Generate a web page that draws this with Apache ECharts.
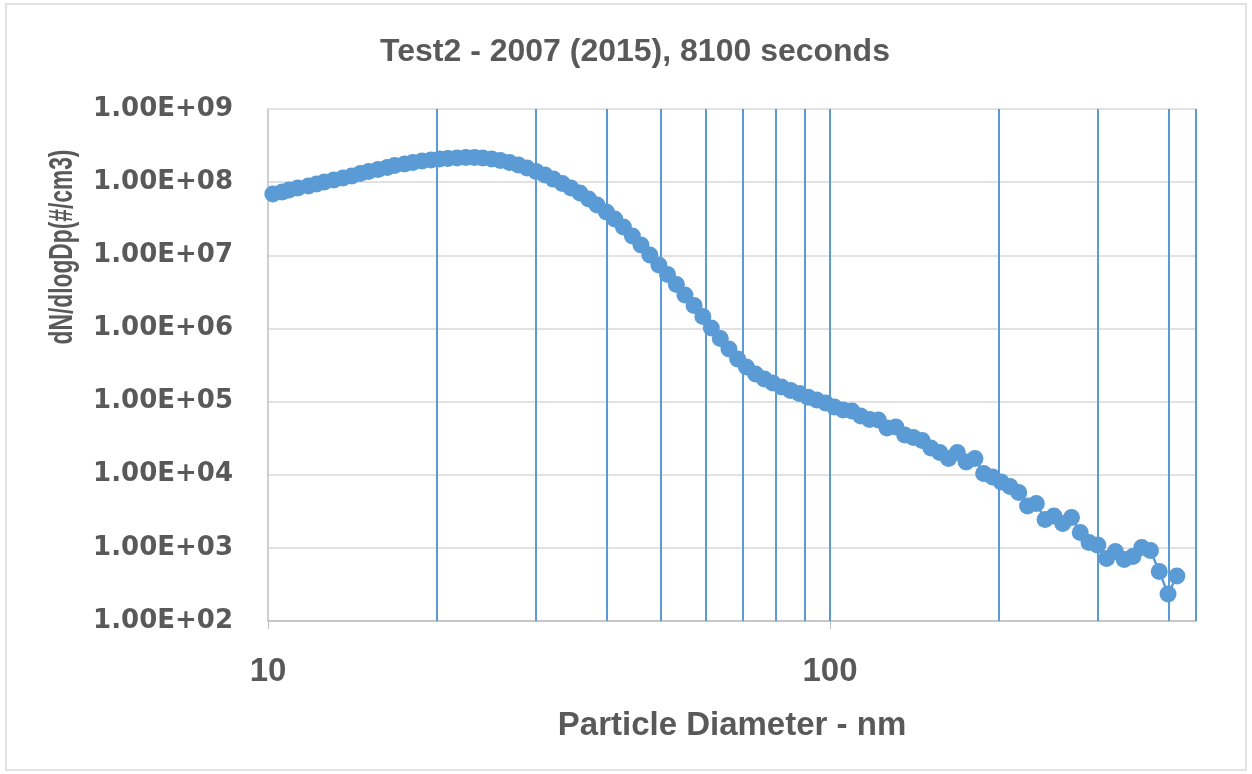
<!DOCTYPE html>
<html>
<head>
  <meta charset="utf-8">
  <title>Test2 - 2007 (2015), 8100 seconds</title>
  <script src="https://fastly.jsdelivr.net/npm/echarts@6/dist/echarts.min.js"></script>
  <style>
    html, body { margin: 0; padding: 0; background: #fff; }
  </style>
</head>
<body>
<div id="chart-container" style="position: relative; width: 1252px; height: 774px; overflow: hidden;"></div>
<script type="text/javascript">
  // particle diameters (nm), SMPS channel midpoints
  var diameters = [
    10.2, 10.6, 10.9, 11.3, 11.8, 12.2, 12.6, 13.1, 13.6, 14.1,
    14.6, 15.1, 15.7, 16.3, 16.8, 17.5, 18.1, 18.8, 19.5, 20.2,
    20.9, 21.7, 22.5, 23.3, 24.1, 25.0, 25.9, 26.9, 27.9, 28.9,
    30.0, 31.1, 32.2, 33.4, 34.6, 35.9, 37.2, 38.5, 40.0, 41.4,
    42.9, 44.5, 46.1, 47.8, 49.6, 51.4, 53.3, 55.2, 57.3, 59.4,
    61.5, 63.8, 66.1, 68.5, 71.0, 73.7, 76.4, 79.1, 82.0, 85.1,
    88.2, 91.4, 94.7, 98.2, 101.8, 105.5, 109.4, 113.4, 117.6, 121.9,
    126.3, 131.0, 135.8, 140.7, 145.9, 151.2, 156.8, 162.5, 168.5, 174.7,
    181.1, 187.7, 194.6, 201.7, 209.1, 216.7, 224.7, 232.9, 241.4, 250.3,
    259.5, 269.0, 278.8, 289.0, 299.6, 310.6, 322.0, 333.8, 346.0, 358.7,
    371.8, 385.4, 399.5, 414.2
  ];

  // dN/dlogDp (#/cm3)
  var concentration = [
    6.89e7, 7.33e7, 7.82e7, 8.32e7, 8.85e7, 9.44e7, 1.005e8, 1.07e8, 1.14e8, 1.21e8,
    1.31e8, 1.40e8, 1.49e8, 1.58e8, 1.69e8, 1.77e8, 1.86e8, 1.95e8, 2.01e8, 2.07e8,
    2.10e8, 2.14e8, 2.17e8, 2.17e8, 2.14e8, 2.07e8, 1.98e8, 1.86e8, 1.71e8, 1.56e8,
    1.40e8, 1.25e8, 1.10e8, 9.57e7, 8.32e7, 7.11e7, 5.87e7, 4.86e7, 3.91e7, 3.13e7,
    2.44e7, 1.84e7, 1.38e7, 1.01e7, 7.36e6, 5.46e6, 3.98e6, 2.86e6, 2.06e6, 1.46e6,
    1.01e6, 7.28e5, 5.24e5, 3.82e5, 2.97e5, 2.38e5, 2.03e5, 1.79e5, 1.58e5, 1.42e5,
    1.29e5, 1.15e5, 1.05e5, 9.55e4, 8.43e4, 7.67e4, 7.43e4, 6.35e4, 5.69e4, 5.60e4,
    4.35e4, 4.49e4, 3.49e4, 3.23e4, 2.94e4, 2.32e4, 2.01e4, 1.67e4, 2.01e4, 1.49e4,
    1.67e4, 1.04e4, 9.31e3, 7.94e3, 6.90e3, 5.71e3, 3.73e3, 4.04e3, 2.44e3, 2.72e3,
    2.15e3, 2.60e3, 1.62e3, 1.18e3, 1.09e3, 7.14e2, 8.91e2, 6.93e2, 7.62e2, 1.01e3,
    9.20e2, 4.74e2, 2.34e2, 4.12e2
  ];

  // vertical gridlines on the diameter axis
  var xGridValues = [20, 30, 40, 50, 60, 70, 80, 90, 100, 200, 300, 400, 448];

  var xMin = 10, xMax = 448;
  var yMin = 1e2, yMax = 1e9;

  var textColor = '#595959';
  var blue = '#5B9BD5';
  var labelFont = 'Liberation Sans, sans-serif';

  function sci(v) {
    var e = Math.round(Math.log10(v));
    var m = v / Math.pow(10, e);
    var s = (e < 0 ? '-' : '+') + (Math.abs(e) < 10 ? '0' : '') + Math.abs(e);
    return m.toFixed(2) + 'E' + s;
  }

  var dom = document.getElementById('chart-container');
  var myChart = echarts.init(dom, null, { renderer: 'canvas' });

  var points = diameters.map(function (d, i) { return [d, concentration[i]]; });

  var option = {
    animation: false,
    backgroundColor: '#fff',
    title: {
      text: 'Test2 - 2007 (2015), 8100 seconds',
      left: 630,
      top: 31,
      textAlign: 'center',
      textStyle: {
        fontFamily: labelFont,
        fontWeight: 'bold',
        fontSize: 32,
        color: textColor
      }
    },
    graphic: [
      {
        type: 'rect',
        shape: { x: 6, y: 4, width: 1240, height: 766 },
        style: { fill: 'none', stroke: '#D9D9D9', lineWidth: 1.5 },
        silent: true
      },
      {
        // y axis title, squeezed along its length like the condensed original
        type: 'text',
        x: 63,
        y: 247,
        rotation: Math.PI / 2,
        scaleX: 0.67,
        style: {
          text: 'dN/dlogDp(#/cm3)',
          fontFamily: labelFont,
          fontWeight: 'bold',
          fontSize: 34,
          fill: textColor,
          align: 'center',
          verticalAlign: 'middle'
        }
      }
    ],
    grid: {
      left: 268,
      right: 56,
      top: 109,
      bottom: 153,
      containLabel: false
    },
    xAxis: {
      type: 'log',
      logBase: 10,
      min: xMin,
      max: xMax,
      name: 'Particle Diameter - nm',
      nameLocation: 'middle',
      nameGap: 88,
      nameTextStyle: {
        fontFamily: labelFont,
        fontWeight: 'bold',
        fontSize: 33,
        color: textColor
      },
      axisLine: { show: true, lineStyle: { color: '#BFBFBF', width: 1.5 } },
      axisTick: { show: true, length: 8, lineStyle: { color: '#BFBFBF' } },
      axisLabel: {
        margin: 34,
        showMaxLabel: false,
        fontFamily: labelFont,
        fontWeight: 'bold',
        fontSize: 33,
        color: textColor,
        formatter: function (v) { return String(Math.round(v)); }
      },
      splitLine: { show: false }
    },
    yAxis: {
      type: 'log',
      logBase: 10,
      min: yMin,
      max: yMax,
      axisLine: { show: true, lineStyle: { color: '#BFBFBF', width: 1.5 } },
      axisTick: { show: false },
      axisLabel: {
        margin: 35,
        fontFamily: 'DejaVu Sans',
        fontWeight: 'bold',
        fontSize: 26,
        color: textColor,
        formatter: function (v) { return sci(v); }
      },
      splitLine: { show: true, lineStyle: { color: '#D9D9D9', width: 1.5 } }
    },
    series: [
      {
        type: 'line',
        data: [],
        z: 1,
        markLine: {
          silent: true,
          symbol: 'none',
          animation: false,
          label: { show: false },
          lineStyle: { color: blue, width: 2, type: 'solid' },
          data: xGridValues.map(function (v) { return { xAxis: v }; })
        }
      },
      {
        name: 'dN/dlogDp',
        type: 'line',
        z: 3,
        data: points,
        symbol: 'circle',
        symbolSize: 17,
        showAllSymbol: true,
        itemStyle: { color: blue },
        lineStyle: { color: blue, width: 2.5 }
      }
    ]
  };

  myChart.setOption(option);
  window.addEventListener('resize', myChart.resize);
</script>
</body>
</html>
